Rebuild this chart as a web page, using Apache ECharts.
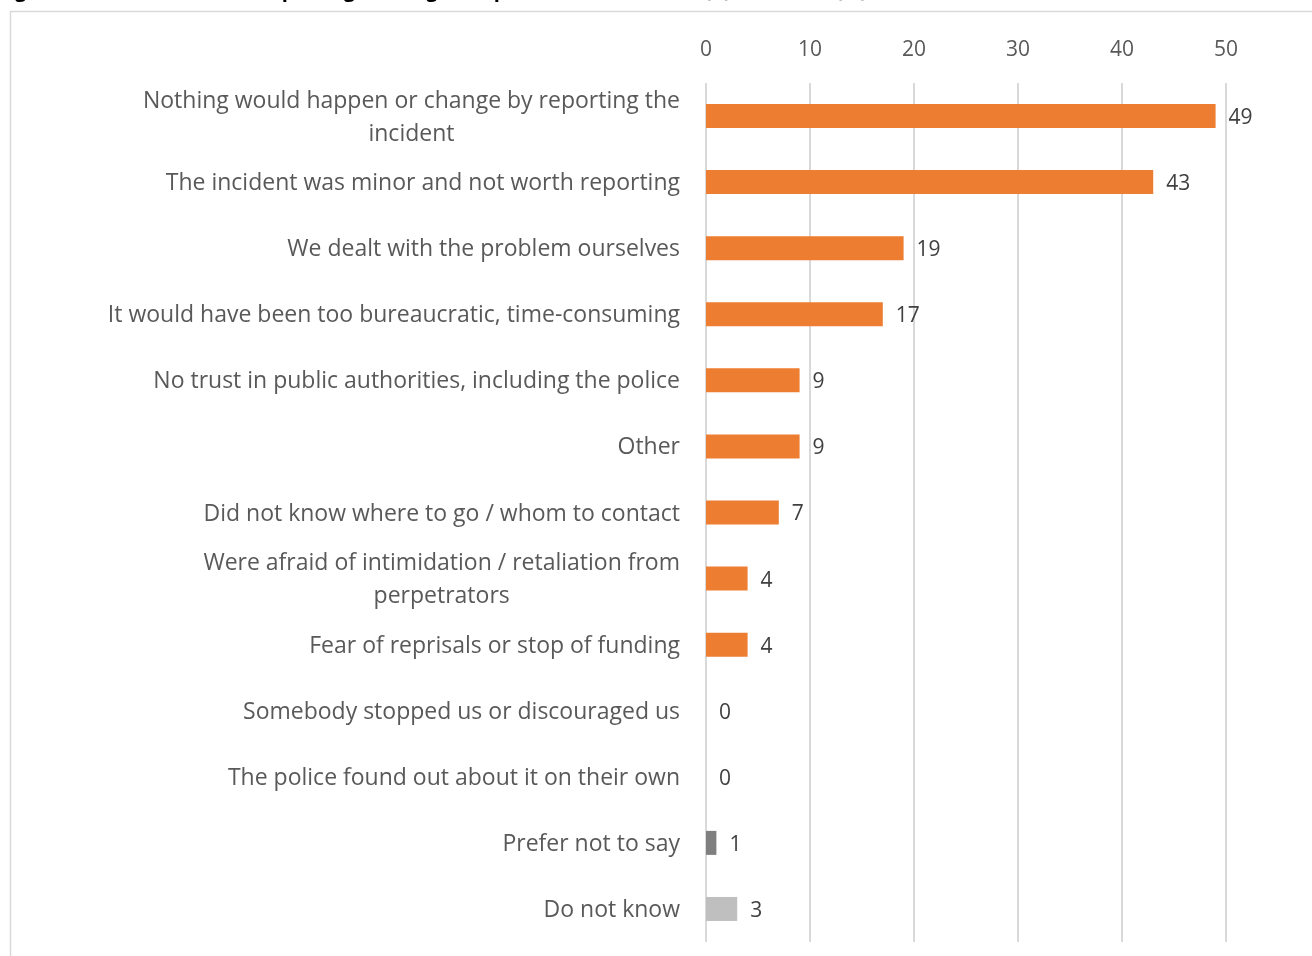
<!DOCTYPE html>
<html>
<head>
<meta charset="utf-8">
<script src="https://cdn.jsdelivr.net/npm/echarts@6/dist/echarts.min.js"></script>
<style>
  html, body { margin: 0; padding: 0; background: #ffffff; }
  #chart { width: 1312px; height: 956px; }
</style>
</head>
<body>
<div id="chart"></div>
<script>
// Reasons, top to bottom; "\n" marks a wrapped line
const categories = [
  'Nothing would happen or change by reporting the\nincident',
  'The incident was minor and not worth reporting',
  'We dealt with the problem ourselves',
  'It would have been too bureaucratic, time-consuming',
  'No trust in public authorities, including the police',
  'Other',
  'Did not know where to go / whom to contact',
  'Were afraid of intimidation / retaliation from\nperpetrators',
  'Fear of reprisals or stop of funding',
  'Somebody stopped us or discouraged us',
  'The police found out about it on their own',
  'Prefer not to say',
  'Do not know'
];
// Share of respondents (%)
const values = [49, 43, 19, 17, 9, 9, 7, 4, 4, 0, 0, 1, 3];
// Bar colour group per reason: substantive reason / no answer / don't know
const groups = ['r', 'r', 'r', 'r', 'r', 'r', 'r', 'r', 'r', 'r', 'r', 'n', 'd'];
const axisTicks = [0, 10, 20, 30, 40, 50];

const groupColor = { r: '#ED7D31', n: '#7F7F7F', d: '#BFBFBF' };
const FONT = '"Open Sans"';

const chart = echarts.init(document.getElementById('chart'), null, { renderer: 'canvas' });

chart.setOption({
  animation: false,
  backgroundColor: '#ffffff',
  textStyle: { fontFamily: FONT },
  graphic: [
    {
      type: 'rect',
      shape: { x: 10.5, y: 11.5, width: 1400, height: 1000 },
      style: { fill: 'none', stroke: '#D9D9D9', lineWidth: 1.5 },
      silent: true
    },
    {
      type: 'text',
      x: -2,
      y: 1,
      style: {
        text: 'Figure 14: Reasons for not reporting funding disruptions to authorities (n) \u2013 all CSOs (%)',
        font: 'bold 20px ' + FONT,
        fill: '#000000',
        textVerticalAlign: 'bottom'
      },
      silent: true
    }
  ],
  grid: { left: 706, right: 86, top: 83, bottom: 14, containLabel: false },
  xAxis: {
    type: 'value',
    position: 'top',
    min: axisTicks[0],
    max: axisTicks[axisTicks.length - 1],
    interval: axisTicks[1] - axisTicks[0],
    axisLine: { show: false },
    axisTick: { show: false },
    axisLabel: { color: '#595959', fontSize: 21, fontFamily: FONT, margin: 22 },
    splitLine: { show: true, lineStyle: { color: '#D9D9D9', width: 2 } }
  },
  yAxis: {
    type: 'category',
    inverse: true,
    data: categories,
    axisLine: { show: false },
    axisTick: { show: false },
    axisLabel: {
      color: '#595959',
      fontSize: 23,
      fontFamily: FONT,
      margin: 26,
      align: 'right',
      lineHeight: 33,
      padding: [3, 0, 0, 0],
      formatter: function (v) {
        return v.split('\n').map(function (s) { return '{c|' + s + '}'; }).join('\n');
      },
      rich: {
        c: { align: 'center', color: '#595959', fontSize: 23, fontFamily: FONT, lineHeight: 33 }
      }
    }
  },
  series: [{
    type: 'bar',
    barWidth: 24,
    data: values.map(function (v, i) {
      return { value: v, itemStyle: { color: groupColor[groups[i]] } };
    }),
    label: {
      show: true,
      position: 'right',
      distance: 13,
      offset: [0, 2],
      color: '#404040',
      fontSize: 21,
      fontFamily: FONT
    }
  }]
});
</script>
</body>
</html>
